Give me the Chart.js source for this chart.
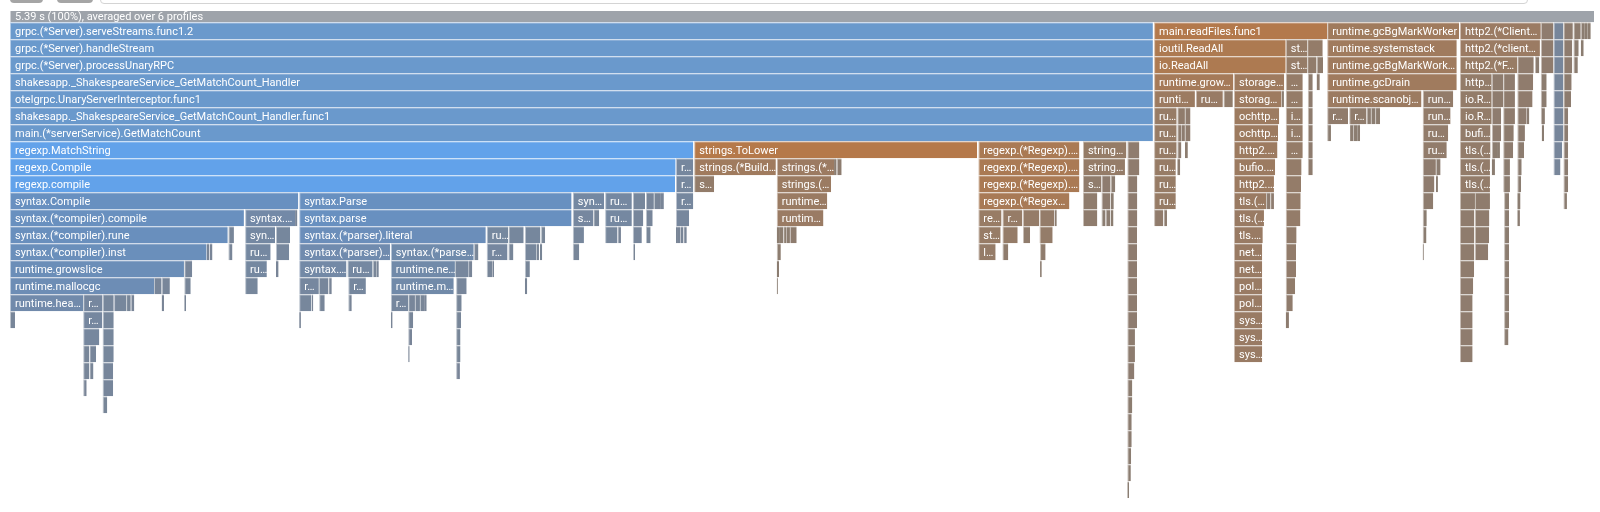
<!DOCTYPE html>
<html>
<head>
<meta charset="utf-8">
<title>Flame graph</title>
<script src="https://cdn.jsdelivr.net/npm/chart.js@4.4.1/dist/chart.umd.min.js"></script>
<style>
  html, body { margin: 0; padding: 0; background: #fff; }
  #wrap { position: relative; width: 1600px; height: 512px; overflow: hidden; }
  #header { position: absolute; left: 0; top: 0; width: 1600px; height: 11px; background: #fff; z-index: 2; overflow: hidden; }
  .btn { position: absolute; top: -13px; height: 16px; border-radius: 4px; background: #a5a5a5; }
  #search { position: absolute; left: 100px; top: -12px; width: 1426px; height: 14px; border: 1px solid #d4d4d4; border-radius: 4px; }
</style>
</head>
<body>
<div id="wrap">
  <div id="header">
    <div class="btn" style="left:10px;width:33px"></div>
    <div class="btn" style="left:57px;width:36px"></div>
    <div id="search"></div>
  </div>
  <canvas id="flame"></canvas>
</div>
<script>
/* ========= PROFILE DATA ========= */

const totalMs = 5390;
const profileCount = 6;
const rootLabel = (totalMs / 1000).toFixed(2) + " s (100%), averaged over " + profileCount + " profiles";

// each frame: [function, depth, start (ms), duration (ms)]
const rootFrames = [[rootLabel, 0, 0, totalMs]];

const serveFrames = [
  ["grpc.(*Server).serveStreams.func1.2", 1, 0, 3889],
  ["grpc.(*Server).handleStream", 2, 0, 3889],
  ["grpc.(*Server).processUnaryRPC", 3, 0, 3889],
  ["shakesapp._ShakespeareService_GetMatchCount_Handler", 4, 0, 3889],
  ["otelgrpc.UnaryServerInterceptor.func1", 5, 0, 3889],
  ["shakesapp._ShakespeareService_GetMatchCount_Handler.func1", 6, 0, 3889],
  ["main.(*serverService).GetMatchCount", 7, 0, 3889]
];

const matchFrames = [
  ["regexp.MatchString", 8, 0, 2325],
  ["regexp.Compile", 9, 0, 2265],
  ["regexp.compile", 10, 0, 2263]
];

const compileFrames = [
  ["runtime.newobject", 9, 2266, 59],
  ["runtime.mallocgc", 10, 2266, 59],
  ["syntax.Compile", 11, 0, 981],
  ["syntax.Parse", 11, 984, 927],
  ["syntax.(*Regexp).String", 11, 1915, 107],
  ["runtime.newobject", 11, 2025, 91],
  ["runtime.makeslice", 11, 2119, 42],
  ["syntax.(*Regexp).CapNames", 11, 2164, 27],
  ["runtime.mapassign_faststr", 11, 2191, 14],
  ["syntax.(*Regexp).MaxCap", 11, 2205, 10],
  ["runtime.growslice", 11, 2215, 10],
  ["runtime.nextFreeFast", 11, 2266, 59],
  ["syntax.(*compiler).compile", 12, 0, 796],
  ["syntax.(*compiler).init", 12, 800, 170],
  ["syntax.(*compiler).cap", 12, 970, 8],
  ["syntax.parse", 12, 984, 927],
  ["strings.(*Builder).WriteString", 12, 1915, 70],
  ["syntax.writeRegexp", 12, 1985, 20],
  ["runtime.mallocgc", 12, 2025, 91],
  ["runtime.mallocgc", 12, 2119, 36],
  ["runtime.growslice", 12, 2164, 23],
  ["runtime.memclrNoHeapPointers", 12, 2266, 45],
  ["syntax.(*compiler).rune", 13, 0, 741],
  ["runtime.growslice", 13, 743, 19],
  ["syntax.(*compiler).inst", 13, 800, 102],
  ["syntax.(*compiler).nop", 13, 905, 48],
  ["syntax.(*parser).literal", 13, 984, 635],
  ["runtime.growslice", 13, 1622, 73],
  ["syntax.(*parser).concat", 13, 1696, 52],
  ["syntax.(*parser).collapse", 13, 1752, 53],
  ["syntax.(*parser).op", 13, 1807, 14],
  ["strings.(*Builder).grow", 13, 1915, 38],
  ["runtime.nextFreeFast", 13, 2025, 42],
  ["runtime.publicationBarrier", 13, 2067, 12],
  ["runtime.(*mcache).nextFree", 13, 2119, 31],
  ["runtime.mallocgc", 13, 2164, 16],
  ["runtime.(*mheap).alloc", 13, 2266, 7],
  ["runtime.sysUsed", 13, 2273, 9],
  ["runtime.madvise", 13, 2282, 9],
  ["runtime.(*mheap).allocSpan", 13, 2291, 12],
  ["syntax.(*compiler).inst", 14, 0, 669],
  ["runtime.growslice", 14, 669, 10],
  ["runtime.makeslice", 14, 680, 9],
  ["runtime.mallocgc", 14, 743, 14],
  ["runtime.growslice", 14, 800, 87],
  ["syntax.(*compiler).inst", 14, 905, 45],
  ["syntax.(*parser).push", 14, 984, 309],
  ["syntax.(*parser).newRegexp", 14, 1296, 282],
  ["syntax.(*parser).reuse", 14, 1579, 15],
  ["runtime.mallocgc", 14, 1622, 71],
  ["syntax.(*parser).maybeConcat", 14, 1696, 17],
  ["syntax.cleanAlt", 14, 1752, 40],
  ["runtime.growslice", 14, 1792, 8],
  ["syntax.(*parser).push", 14, 1803, 8],
  ["runtime.growslice", 14, 1915, 22],
  ["runtime.nextFreeFast", 14, 2121, 6],
  ["runtime.growslice", 15, 0, 592],
  ["runtime.memmove", 15, 593, 27],
  ["runtime.mallocgc", 15, 800, 74],
  ["runtime.memmove", 15, 905, 9],
  ["syntax.(*parser).maybeConcat", 15, 984, 161],
  ["runtime.growslice", 15, 1148, 86],
  ["syntax.isCharClass", 15, 1234, 14],
  ["syntax.(*Regexp).Equal", 15, 1248, 7],
  ["runtime.newobject", 15, 1296, 218],
  ["runtime.memclrNoHeapPointers", 15, 1514, 47],
  ["runtime.gcWriteBarrier", 15, 1562, 11],
  ["runtime.nextFreeFast", 15, 1622, 19],
  ["runtime.heapBitsSetType", 15, 1641, 6],
  ["runtime.makeslice", 15, 1752, 17],
  ["runtime.mallocgc", 16, 0, 490],
  ["runtime.nextFreeFast", 16, 490, 26],
  ["runtime.memclrNoHeapPointers", 16, 516, 28],
  ["runtime.asyncPreempt", 16, 593, 22],
  ["runtime.nextFreeFast", 16, 800, 43],
  ["runtime.growslice", 16, 984, 67],
  ["runtime.memmove", 16, 1051, 32],
  ["runtime.gcWriteBarrier", 16, 1083, 12],
  ["runtime.mallocgc", 16, 1151, 60],
  ["runtime.mallocgc", 16, 1296, 214],
  ["runtime.bulkBarrierPreWrite", 16, 1518, 36],
  ["runtime.mallocgc", 16, 1752, 8],
  ["runtime.heapBitsSetType", 17, 0, 249],
  ["runtime.(*mcache).nextFree", 17, 249, 66],
  ["runtime.nextFreeFast", 17, 315, 38],
  ["runtime.memclrNoHeapPointers", 17, 354, 41],
  ["runtime.publicationBarrier", 17, 395, 16],
  ["runtime.gcmarknewobject", 17, 411, 12],
  ["runtime.nextFreeFast", 17, 516, 8],
  ["runtime.memmove", 17, 593, 6],
  ["runtime.mallocgc", 17, 984, 42],
  ["runtime.memmove", 17, 1027, 5],
  ["runtime.gcWriteBarrier", 17, 1052, 19],
  ["runtime.nextFreeFast", 17, 1151, 12],
  ["runtime.heapBitsSetType", 17, 1296, 59],
  ["runtime.(*mcache).nextFree", 17, 1355, 23],
  ["runtime.nextFreeFast", 17, 1378, 17],
  ["runtime.memclrNoHeapPointers", 17, 1395, 14],
  ["runtime.publicationBarrier", 17, 1409, 9],
  ["runtime.findObject", 17, 1518, 19],
  ["runtime.heapBitsForAddr", 18, 0, 17],
  ["runtime.(*mcache).refill", 18, 249, 65],
  ["runtime.(*mspan).nextFreeIndex", 18, 315, 38],
  ["runtime.heapBitsForAddr", 18, 984, 6],
  ["runtime.heapBitsForAddr", 18, 1296, 6],
  ["runtime.(*mcache).refill", 18, 1355, 17],
  ["runtime.spanOf", 18, 1518, 17],
  ["runtime.(*mcentral).cacheSpan", 19, 249, 55],
  ["runtime.(*mspan).refillAllocCache", 19, 315, 38],
  ["runtime.(*mcentral).cacheSpan", 19, 1355, 13],
  ["runtime.spanOfUnchecked", 19, 1518, 15],
  ["runtime.(*mcentral).grow", 20, 249, 20],
  ["runtime.(*mcentral).partialSwept", 20, 270, 23],
  ["runtime.(*gcBits).bitp", 20, 315, 38],
  ["runtime.(*mcentral).grow", 20, 1355, 5],
  ["runtime.(*pageAlloc).find", 20, 1518, 15],
  ["runtime.(*mheap).alloc", 21, 249, 20],
  ["runtime.(*spanSet).pop", 21, 270, 14],
  ["runtime.(*gcBits).bytep", 21, 315, 36],
  ["runtime.lock2", 21, 1518, 13],
  ["runtime.(*mheap).allocSpan", 22, 249, 12],
  ["runtime.markBits.isMarked", 22, 315, 36],
  ["runtime.procyield", 23, 315, 16]
];

const toLowerFrames = [
  ["strings.ToLower", 8, 2328, 963],
  ["strings.(*Builder).WriteByte", 9, 2328, 278],
  ["strings.(*Builder).Grow", 9, 2609, 195],
  ["unicode.ToLower", 9, 2804, 9],
  ["strings.(*Builder).String", 9, 2813, 17],
  ["strings.(*Builder).copyCheck", 10, 2328, 68],
  ["strings.(*Builder).grow", 10, 2609, 185],
  ["runtime.growslice", 11, 2609, 172],
  ["runtime.mallocgc", 12, 2609, 159],
  ["runtime.nextFreeFast", 13, 2609, 11],
  ["runtime.memclrNoHeapPointers", 13, 2620, 11],
  ["runtime.(*mcache).nextFree", 13, 2631, 12],
  ["runtime.heapBitsSetType", 13, 2643, 11],
  ["runtime.memmove", 13, 2654, 23],
  ["runtime.(*mcache).refill", 14, 2609, 14],
  ["runtime.(*mcentral).cacheSpan", 15, 2609, 8],
  ["runtime.(*mcentral).grow", 16, 2609, 4]
];

const regexpFrames = [
  ["regexp.(*Regexp).MatchString", 8, 3295, 344],
  ["regexp.(*Regexp).doMatch", 9, 3295, 344],
  ["regexp.(*Regexp).doExecute", 10, 3295, 344],
  ["regexp.(*Regexp).backtrack", 11, 3295, 310],
  ["regexp.(*bitState).reset", 12, 3295, 79],
  ["regexp.(*Regexp).tryBacktrack", 12, 3377, 68],
  ["regexp.(*bitState).shouldVisit", 12, 3447, 55],
  ["regexp.(*bitState).push", 12, 3503, 50],
  ["regexp.(*inputString).step", 12, 3554, 8],
  ["strings.IndexByte", 13, 3295, 76],
  ["regexp.(*bitState).push", 13, 3377, 52],
  ["regexp.(*inputString).step", 13, 3447, 24],
  ["runtime.growslice", 13, 3503, 45],
  ["lfstack.push", 14, 3295, 59],
  ["runtime.growslice", 14, 3377, 20],
  ["runtime.mallocgc", 14, 3505, 19],
  ["runtime.nextFreeFast", 15, 3505, 6]
];

const matchTailFrames = [
  ["strings.Contains", 8, 3651, 148],
  ["runtime.morestack", 8, 3802, 41],
  ["strings.Index", 9, 3651, 143],
  ["runtime.newstack", 9, 3802, 41],
  ["strings.IndexByte", 10, 3651, 63],
  ["bytealg.IndexString", 10, 3714, 31],
  ["runtime.memequal", 10, 3745, 16],
  ["runtime.copystack", 10, 3802, 34],
  ["bytealg.IndexByteString", 11, 3651, 49],
  ["indexbody", 11, 3714, 30],
  ["memeqbody", 11, 3745, 11],
  ["runtime.gentraceback", 11, 3802, 34],
  ["indexbytebody", 12, 3651, 49],
  ["runtime.asyncPreempt", 12, 3714, 14],
  ["runtime.asyncPreempt2", 12, 3728, 16],
  ["runtime.asyncPreempt", 12, 3745, 10],
  ["runtime.adjustframe", 12, 3802, 34],
  ["runtime.getStackMap", 13, 3802, 33],
  ["runtime.pcdatavalue", 14, 3802, 33],
  ["runtime.pcvalue", 15, 3802, 33],
  ["runtime.step", 16, 3802, 33],
  ["runtime.readvarint", 17, 3802, 33],
  ["runtime.funcInfo.entry", 18, 3802, 33],
  ["runtime.(*moduledata).textOff", 19, 3802, 26],
  ["runtime.findfunc", 20, 3802, 26],
  ["runtime.funcdata", 21, 3802, 24],
  ["runtime.stackmapdata", 22, 3802, 17],
  ["runtime.addb", 23, 3802, 17],
  ["runtime.adjustpointers", 24, 3802, 15],
  ["runtime.adjustpointer", 25, 3802, 15],
  ["runtime.findObject", 26, 3802, 13],
  ["runtime.spanOf", 27, 3802, 12],
  ["runtime.spanOfUnchecked", 28, 3802, 6]
];

const readFilesFrames = [
  ["main.readFiles.func1", 1, 3893, 589],
  ["ioutil.ReadAll", 2, 3893, 448],
  ["storage.(*ObjectHandle).NewReader", 2, 4341, 73],
  ["strings.Split", 2, 4414, 53],
  ["io.ReadAll", 3, 3893, 448],
  ["storage.(*ObjectHandle).NewRangeReader", 3, 4341, 73],
  ["strings.genSplit", 3, 4414, 32],
  ["runtime.makeslice", 3, 4446, 22],
  ["runtime.growslice", 4, 3893, 270],
  ["storage.(*Reader).Read", 4, 4165, 171],
  ["http.(*Client).Do", 4, 4341, 58],
  ["strings.Count", 4, 4416, 17],
  ["runtime.mallocgc", 4, 4446, 11],
  ["runtime.mallocgc", 5, 3893, 139],
  ["runtime.memmove", 5, 4035, 92],
  ["runtime.gcWriteBarrier", 5, 4129, 32],
  ["storage.(*httpReader).Read", 5, 4165, 162],
  ["runtime.deferreturn", 5, 4327, 8],
  ["http.(*Client).do", 5, 4341, 58],
  ["bytealg.CountString", 5, 4416, 17],
  ["runtime.(*mcache).nextFree", 6, 3893, 77],
  ["runtime.heapBitsSetType", 6, 3972, 26],
  ["runtime.memclrNoHeapPointers", 6, 3998, 19],
  ["ochttp.(*wrappedBody).Read", 6, 4165, 154],
  ["internal.Retry", 6, 4341, 58],
  ["countbody", 6, 4416, 17],
  ["runtime.(*mcache).refill", 7, 3893, 77],
  ["runtime.heapBitsForAddr", 7, 3972, 15],
  ["runtime.spanOf", 7, 3987, 11],
  ["runtime.asyncPreempt", 7, 3998, 19],
  ["ochttp.(*bodyTracker).Read", 7, 4165, 150],
  ["internal.retry", 7, 4341, 58],
  ["runtime.asyncPreempt", 7, 4416, 17],
  ["runtime.(*mcentral).cacheSpan", 8, 3893, 77],
  ["runtime.arenaIndex", 8, 3972, 14],
  ["runtime.asyncPreempt2", 8, 3998, 10],
  ["http2.(*transportResponseBody).Read", 8, 4165, 148],
  ["net/http.(*Client).send", 8, 4341, 58],
  ["runtime.asyncPreempt2", 8, 4416, 17],
  ["runtime.(*mcentral).grow", 9, 3893, 74],
  ["runtime.procyield", 9, 3972, 10],
  ["bufio.(*Reader).Read", 9, 4165, 140],
  ["http.send", 9, 4341, 54],
  ["runtime.gopreempt_m", 9, 4416, 17],
  ["runtime.(*mheap).alloc", 10, 3893, 74],
  ["http2.(*Framer).ReadFrame", 10, 4165, 136],
  ["ochttp.(*Transport).RoundTrip", 10, 4341, 52],
  ["runtime.systemstack", 11, 3893, 74],
  ["tls.(*Conn).Read", 11, 4165, 109],
  ["runtime.gopark", 11, 4274, 14],
  ["runtime.mcall", 11, 4288, 13],
  ["http.(*Transport).RoundTrip", 11, 4341, 51],
  ["runtime.(*mheap).alloc.func1", 12, 3893, 31],
  ["runtime.(*mheap).allocSpan", 12, 3925, 12],
  ["tls.(*Conn).readRecord", 12, 4165, 102],
  ["http.(*Transport).roundTrip", 12, 4341, 50],
  ["tls.(*Conn).readRecordOrCCS", 13, 4165, 98],
  ["http2.(*Transport).RoundTripOpt", 13, 4341, 37],
  ["net.(*conn).Read", 14, 4165, 96],
  ["http2.(*ClientConn).RoundTrip", 14, 4341, 35],
  ["net.(*netFD).Read", 15, 4165, 96],
  ["http2.(*ClientConn).roundTrip", 15, 4341, 35],
  ["poll.(*FD).Read", 16, 4165, 96],
  ["runtime.selectgo", 16, 4341, 32],
  ["poll.ignoringEINTRIO", 17, 4165, 96],
  ["runtime.gopark", 17, 4341, 24],
  ["syscall.Read", 18, 4165, 96],
  ["runtime.mcall", 18, 4341, 11],
  ["syscall.read", 19, 4165, 96],
  ["syscall.Syscall", 20, 4165, 96]
];

const gcFrames = [
  ["runtime.gcBgMarkWorker", 1, 4482, 449],
  ["runtime.systemstack", 2, 4482, 441],
  ["runtime.gcBgMarkWorker.func2", 3, 4482, 441],
  ["runtime.gcDrain", 4, 4482, 441],
  ["runtime.scanobject", 5, 4482, 321],
  ["runtime.markroot", 5, 4807, 104],
  ["runtime.findObject", 6, 4482, 71],
  ["runtime.greyobject", 6, 4557, 59],
  ["runtime.heapBits.next", 6, 4616, 15],
  ["runtime.spanOf", 6, 4631, 14],
  ["runtime.pageIndexOf", 6, 4645, 17],
  ["runtime.markrootBlock", 6, 4807, 95],
  ["runtime.spanOf", 7, 4482, 13],
  ["runtime.(*gcWork).putFast", 7, 4560, 10],
  ["runtime.markBits.isMarked", 7, 4570, 14],
  ["runtime.(*gcBits).bytep", 7, 4584, 10],
  ["runtime.scanblock", 7, 4807, 87],
  ["runtime.greyobject", 8, 4807, 82],
  ["runtime.findObject", 9, 4807, 45],
  ["runtime.(*gcWork).putFast", 9, 4852, 16],
  ["runtime.spanOf", 10, 4807, 40],
  ["runtime.(*gcWork).init", 10, 4852, 7],
  ["runtime.spanOfUnchecked", 11, 4807, 36],
  ["runtime.(*mheap).lookup", 12, 4807, 14],
  ["runtime.arenaIndex", 13, 4807, 13],
  ["runtime.procyield", 14, 4807, 4]
];

const http2Frames = [
  ["http2.(*ClientConn).readLoop", 1, 4934, 275],
  ["http2.(*clientConnReadLoop).run", 2, 4934, 272],
  ["http2.(*Framer).ReadFrame", 3, 4934, 195],
  ["http2.(*clientConnReadLoop).processData", 3, 5129, 56],
  ["http2.(*clientConnReadLoop).processHeaders", 3, 5189, 15],
  ["http2.readFrameHeader", 4, 4934, 108],
  ["http2.parseDataFrame", 4, 5042, 39],
  ["http2.(*Framer).checkFrameOrder", 4, 5081, 40],
  ["http2.(*pipe).Write", 4, 5129, 54],
  ["io.ReadFull", 5, 4934, 108],
  ["http2.validStreamID", 5, 5042, 39],
  ["io.ReadFull", 5, 5081, 40],
  ["bytes.(*Buffer).Write", 5, 5129, 52],
  ["io.ReadAtLeast", 6, 4934, 108],
  ["runtime.makeslice", 6, 5042, 32],
  ["io.ReadAtLeast", 6, 5081, 40],
  ["bytes.(*Buffer).grow", 6, 5129, 32],
  ["runtime.memmove", 6, 5161, 9],
  ["bufio.(*Reader).Read", 7, 4934, 104],
  ["runtime.mallocgc", 7, 5042, 32],
  ["bufio.(*Reader).Read", 7, 5081, 36],
  ["runtime.makeslice", 7, 5129, 26],
  ["tls.(*Conn).Read", 8, 4934, 104],
  ["runtime.nextFreeFast", 8, 5042, 18],
  ["runtime.memclrNoHeapPointers", 8, 5060, 10],
  ["tls.(*Conn).Read", 8, 5081, 34],
  ["runtime.mallocgc", 8, 5129, 23],
  ["tls.(*Conn).readRecord", 9, 4934, 102],
  ["runtime.(*mcache).nextFree", 9, 5042, 11],
  ["tls.(*Conn).readRecord", 9, 5081, 23],
  ["runtime.memclrNoHeapPointers", 9, 5129, 15],
  ["tls.(*Conn).readRecordOrCCS", 10, 4934, 102],
  ["tls.(*Conn).readRecordOrCCS", 10, 5081, 23],
  ["runtime.asyncPreempt", 10, 5129, 13],
  ["tls.(*Conn).readFromUntil", 11, 4934, 51],
  ["tls.(*halfConn).decrypt", 11, 4985, 51],
  ["tls.(*Conn).readFromUntil", 11, 5084, 17],
  ["runtime.asyncPreempt2", 11, 5129, 11],
  ["bytes.(*Buffer).ReadFrom", 12, 4934, 49],
  ["cipher.(*gcmAsm).Open", 12, 4985, 49],
  ["bytes.(*Buffer).ReadFrom", 12, 5084, 17],
  ["runtime.mcall", 12, 5129, 9],
  ["tls.(*atLeastReader).Read", 13, 4934, 49],
  ["aes.gcmAesDec", 13, 4985, 48],
  ["tls.(*atLeastReader).Read", 13, 5084, 17],
  ["net.(*conn).Read", 14, 4934, 49],
  ["aes.gcmAesData", 14, 4985, 45],
  ["net.(*conn).Read", 14, 5084, 17],
  ["net.(*netFD).Read", 15, 4934, 48],
  ["net.(*netFD).Read", 15, 5084, 17],
  ["poll.(*FD).Read", 16, 4934, 45],
  ["poll.(*FD).Read", 16, 5084, 17],
  ["poll.ignoringEINTRIO", 17, 4934, 43],
  ["poll.ignoringEINTRIO", 17, 5084, 17],
  ["syscall.Read", 18, 4934, 43],
  ["syscall.Read", 18, 5084, 17],
  ["syscall.read", 19, 4934, 43],
  ["syscall.read", 19, 5084, 15],
  ["syscall.Syscall", 20, 4934, 43]
];

const tailFrames = [
  ["runtime.mcall", 1, 5209, 43],
  ["runtime.park_m", 2, 5209, 43],
  ["runtime.schedule", 3, 5209, 43],
  ["runtime.findrunnable", 4, 5209, 20],
  ["runtime.netpoll", 5, 5209, 20],
  ["runtime.epollwait", 6, 5209, 14],
  ["runtime.futex", 7, 5212, 8],
  ["runtime.bgsweep", 1, 5286, 32],
  ["runtime.sweepone", 2, 5286, 30],
  ["runtime.(*sweepLocked).sweep", 3, 5286, 30],
  ["runtime.(*mheap).freeSpan", 4, 5286, 28],
  ["runtime.systemstack", 5, 5286, 26],
  ["runtime.(*mheap).freeSpan.func1", 6, 5286, 16],
  ["runtime.(*mheap).freeSpanLocked", 7, 5286, 16],
  ["runtime.(*pageAlloc).free", 8, 5286, 16],
  ["runtime.(*pageAlloc).update", 9, 5286, 16],
  ["runtime.(*pallocBits).summarize", 10, 5286, 16],
  ["runtime.mergeSummaries", 11, 5286, 12],
  ["runtime.main", 1, 5320, 25],
  ["main.main", 2, 5320, 18],
  ["main.readFiles", 3, 5320, 15],
  ["runtime.bgscavenge", 1, 5345, 14],
  ["runtime.(*scavengerState).park", 2, 5345, 10],
  ["runtime.forcegchelper", 1, 5359, 10],
  ["runtime.runfinq", 1, 5369, 10]
];

const tailBlueFrames = [
  ["runtime.mstart", 1, 5252, 34],
  ["runtime.mstart0", 2, 5252, 34],
  ["runtime.mstart1", 3, 5252, 34],
  ["runtime.schedule", 4, 5252, 34],
  ["runtime.findrunnable", 5, 5252, 34],
  ["runtime.stopm", 6, 5252, 34],
  ["runtime.mPark", 7, 5252, 34],
  ["runtime.notesleep", 8, 5252, 30],
  ["runtime.futexsleep", 9, 5252, 24]
];

/* ========= COLOURS ========= */

const headerHeight = 11;
const WHITE = [255, 255, 255];

function hexRgb(h) {
  const n = parseInt(h.slice(1), 16);
  return [n >> 16, (n >> 8) & 255, n & 255];
}
function mix(a, b, t) {
  return a.map((v, i) => Math.round(v + (b[i] - v) * t));
}
function css(c) {
  return "rgb(" + c.join(",") + ")";
}

const bluePal = { base: hexRgb("#6890c0"), grey: hexRgb("#7b8492") };
const brownPal = { base: hexRgb("#b5794a"), grey: hexRgb("#877d75") };

function flat(hex) {
  const c = hexRgb(hex);
  return () => c;
}
function shaded(pal, refMs) {
  return (raw) => mix(pal.grey, pal.base, Math.min(1, Math.sqrt(raw.dur / refMs)));
}

function frameSet(frames, paint) {
  return {
    data: frames.map(([name, depth, start, dur]) => ({ x: [start, start + dur], y: depth, name: name, dur: dur })),
    backgroundColor: (c) => (c.raw ? css(paint(c.raw)) : "#999"),
    borderColor: (c) => (c.raw ? css(mix(paint(c.raw), WHITE, 0.5)) : "#ccc"),
    borderWidth: (c) => ({ top: 1, left: c.raw && c.raw.dur < 12 ? 0 : 1, right: 0, bottom: 0 }),
    borderSkipped: false,
    grouped: false,
    barPercentage: 1,
    categoryPercentage: 1,
    inflateAmount: 0
  };
}

/* ========= LABELS ========= */

function fitLabel(ctx, name, width) {
  if (width < 16.8) return "";
  const room = width - 4;
  if (ctx.measureText(name).width <= room) return name;
  for (let n = name.length - 1; n > 0; n--) {
    const s = name.slice(0, n) + "\u2026";
    if (ctx.measureText(s).width <= room) return s;
  }
  return "\u2026";
}

const labelPlugin = {
  id: "frameLabels",
  afterDatasetsDraw(chart) {
    const ctx = chart.ctx;
    ctx.save();
    ctx.font = "11px Roboto, 'Noto Sans', sans-serif";
    ctx.fillStyle = "#ffffff";
    ctx.textBaseline = "middle";
    chart.data.datasets.forEach((ds, i) => {
      chart.getDatasetMeta(i).data.forEach((bar, j) => {
        const p = bar.getProps(["x", "y", "base", "height"], true);
        const left = Math.min(p.x, p.base);
        const width = Math.abs(p.x - p.base);
        const text = fitLabel(ctx, ds.data[j].name, width);
        if (!text) return;
        const rowTop = p.y - p.height / 2;
        const top = Math.max(rowTop, headerHeight);
        const bottom = p.y + p.height / 2;
        const nudge = top > rowTop ? 0.5 : 1.8;
        ctx.fillText(text, left + 5, (top + bottom) / 2 + nudge);
      });
    });
    ctx.restore();
  }
};

/* ========= FLAME GRAPH ========= */

new Chart(document.getElementById("flame"), {
  type: "bar",
  data: {
    datasets: [
      frameSet(rootFrames, flat("#9ea3aa")),
      frameSet(serveFrames, flat("#6a99cc")),
      frameSet(matchFrames, flat("#62a2ea")),
      frameSet(compileFrames, shaded(bluePal, 850)),
      frameSet(toLowerFrames, shaded(brownPal, 963)),
      frameSet(regexpFrames, shaded(brownPal, 600)),
      frameSet(matchTailFrames, shaded(brownPal, 1500)),
      frameSet(readFilesFrames, shaded(brownPal, 650)),
      frameSet(gcFrames, shaded(brownPal, 1500)),
      frameSet(http2Frames, shaded(brownPal, 1500)),
      frameSet(tailFrames, shaded(brownPal, 1500)),
      frameSet(tailBlueFrames, shaded(bluePal, 850))
    ]
  },
  options: {
    indexAxis: "y",
    responsive: true,
    maintainAspectRatio: false,
    animation: false,
    events: [],
    layout: { padding: { left: 10, right: 6, top: 5.3, bottom: 13.7 } },
    scales: {
      x: { type: "linear", min: 0, max: totalMs, offset: false, display: false },
      y: { type: "linear", min: -0.5, max: 28.5, reverse: true, offset: false, display: false }
    },
    plugins: {
      legend: { display: false },
      tooltip: { enabled: false }
    }
  },
  plugins: [labelPlugin]
});
</script>
</body>
</html>
